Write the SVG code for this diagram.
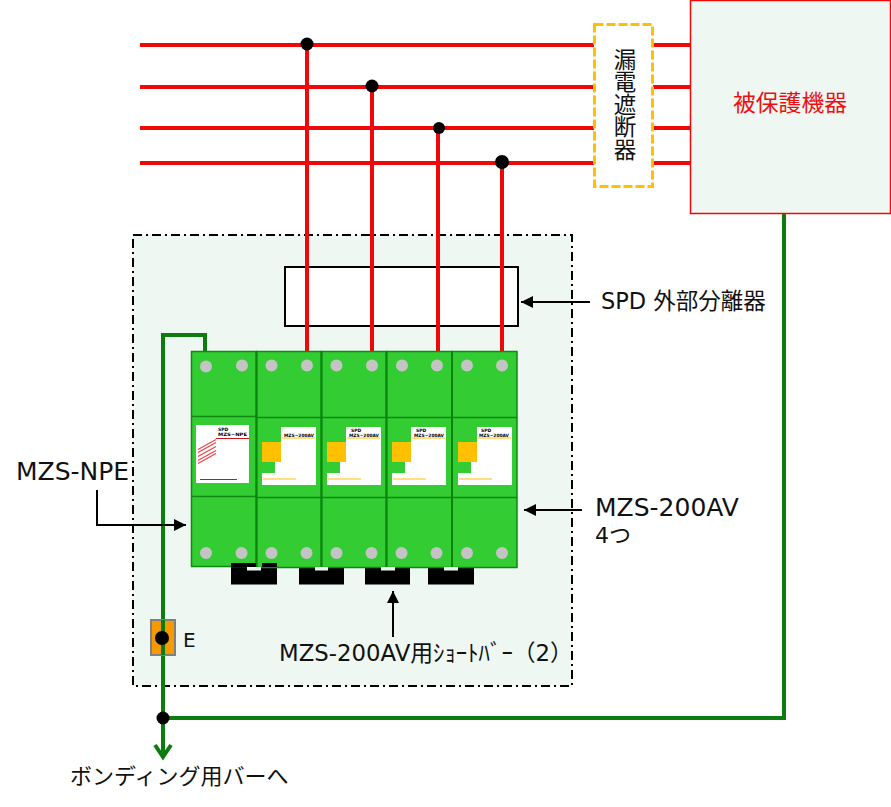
<svg xmlns="http://www.w3.org/2000/svg" xmlns:xlink="http://www.w3.org/1999/xlink" width="891" height="807" viewBox="0 0 891 807">
<style>
text{font-family:"DejaVu Sans","Noto Sans CJK JP",sans-serif;fill:#111}
.cjk{font-family:"Noto Sans CJK JP",sans-serif}
.red{fill:none;stroke:#F00808;stroke-width:4}
.grn{fill:none;stroke:#0C7C0F;stroke-width:4}
.blk{fill:none;stroke:#000;stroke-width:2}
.mod{fill:#33CC33;stroke:#0F8A12;stroke-width:1.500}
.div{stroke:#0F8A12;stroke-width:1.500}
.sep{stroke:#0A840F;stroke-width:2}
.scr{fill:#C4C4C4}
.bar{fill:#000}
.tiny{font-size:4.500px;font-weight:bold;fill:#000;font-family:"DejaVu Sans",sans-serif}
.yl{stroke:#FFC000;stroke-width:1}
.dot{fill:#000}
</style>
<defs>
<marker id="ah" markerUnits="userSpaceOnUse" markerWidth="13" markerHeight="12" refX="12" refY="6" orient="auto"><path d="M0 0L12 6L0 12Z" fill="#000"/></marker>
<g id="modfront">
<path fill="#fff" d="M19 0H54V58H0V46H13V35H19Z"/>
<rect x="0" y="15" width="19" height="20" fill="#FFC000"/>
<path class="yl" d="M20 11H53M1 52H34"/>
</g>
</defs>
<rect width="891" height="807" fill="#fff"/>

<g id="enclosure"><rect x="133" y="235" width="439" height="451" fill="#EEF7F2" stroke="#000" stroke-width="2" stroke-dasharray="9 4 2 4"/></g>

<g id="connectors">
<path class="red" d="M140 45H594M653 45H690M140 87H594M653 87H690M140 128H594M653 128H690M140 163H594M653 163H690"/>
<path class="grn" d="M205 351V335H163V756M784 213V718H163M155 745L163 757L171 745"/>
<path class="blk" d="M590 302H521" marker-end="url(#ah)"/>
<path class="blk" d="M97 490V525H186" marker-end="url(#ah)"/>
<path class="blk" d="M582 510H524" marker-end="url(#ah)"/>
<path class="blk" d="M393 637V591" marker-end="url(#ah)"/>
</g>

<g id="separator"><rect x="285" y="267" width="233" height="59" fill="#fff" stroke="#000" stroke-width="2"/></g>
<g id="feeders">
<path class="red" d="M307 45V351M372 87V351M438 128V351M502 163V351"/>
<circle class="dot" cx="307" cy="44" r="6.500"/>
<circle class="dot" cx="372" cy="86" r="6.500"/>
<circle class="dot" cx="439" cy="128" r="6"/>
<circle class="dot" cx="502" cy="162" r="7"/>
</g>

<g id="short-bars">
<path class="bar" d="M231 563H277V584.500H231Z"/>
<path class="bar" d="M299 566H344V584.500H299Z"/>
<path class="bar" d="M365 566H410V584.500H365Z"/>
<path class="bar" d="M428 566H474V584.500H428Z"/>
</g>

<g id="mzs-npe">
<rect class="mod" x="191.500" y="351.500" width="65" height="215"/>
<path class="div" d="M191.500 416.500H256.500M191.500 496.500H256.500"/>
<circle class="scr" cx="206" cy="366.500" r="6"/><circle class="scr" cx="242" cy="365.500" r="6"/>
<circle class="scr" cx="206" cy="553" r="6"/><circle class="scr" cx="241.500" cy="553" r="6"/>
<rect x="196" y="425" width="53" height="58" fill="#fff"/>
<text class="tiny" x="218" y="430.500">SPD</text>
<text class="tiny" x="218" y="435.500" textLength="29" lengthAdjust="spacingAndGlyphs">MZS−NPE</text>
<path d="M216 438.500H249M200 479.500H237" stroke="#CC1418" stroke-width="1"/>
<path d="M198 449.500L216 439.500M198 452.500L216 442.500M198 456.500L216 446.500M198 460.500L216 450.500M198 463.500L216 453.500" stroke="#EE4048" stroke-width="1.200"/>
</g>

<g id="mzs-200av-1">
<rect class="mod" x="256.500" y="351.500" width="65" height="216"/>
<path class="div" d="M256.500 417.500H321.500M256.500 497.500H321.500"/>
<circle class="scr" cx="271.500" cy="365.500" r="6"/><circle class="scr" cx="307" cy="365.500" r="6"/>
<circle class="scr" cx="271.500" cy="553" r="6"/><circle class="scr" cx="306.500" cy="553" r="6"/>
<use xlink:href="#modfront" href="#modfront" x="262" y="427"/>
<text class="tiny" x="284" y="437" textLength="30" lengthAdjust="spacingAndGlyphs">MZS−200AV</text>
</g>
<g id="mzs-200av-2">
<rect class="mod" x="321.500" y="351.500" width="65" height="216"/>
<path class="div" d="M321.500 417.500H386.500M321.500 497.500H386.500"/>
<circle class="scr" cx="336.500" cy="365.500" r="6"/><circle class="scr" cx="372" cy="365.500" r="6"/>
<circle class="scr" cx="336.500" cy="553" r="6"/><circle class="scr" cx="371.500" cy="553" r="6"/>
<use xlink:href="#modfront" href="#modfront" x="327" y="427"/>
<text class="tiny" x="351" y="431.500">SPD</text>
<text class="tiny" x="349" y="437" textLength="30" lengthAdjust="spacingAndGlyphs">MZS−200AV</text>
</g>
<g id="mzs-200av-3">
<rect class="mod" x="386.500" y="351.500" width="65.500" height="216"/>
<path class="div" d="M386.500 417.500H452M386.500 497.500H452"/>
<circle class="scr" cx="402" cy="365.500" r="6"/><circle class="scr" cx="437" cy="365.500" r="6"/>
<circle class="scr" cx="401.500" cy="553" r="6"/><circle class="scr" cx="436.500" cy="553" r="6"/>
<use xlink:href="#modfront" href="#modfront" x="392" y="427"/>
<text class="tiny" x="416" y="431.500">SPD</text>
<text class="tiny" x="414" y="437" textLength="30" lengthAdjust="spacingAndGlyphs">MZS−200AV</text>
</g>
<g id="mzs-200av-4">
<rect class="mod" x="452" y="351.500" width="65" height="216"/>
<path class="div" d="M452 417.500H517M452 497.500H517"/>
<circle class="scr" cx="467" cy="365.500" r="6"/><circle class="scr" cx="502" cy="365.500" r="6"/>
<circle class="scr" cx="467" cy="553" r="6"/><circle class="scr" cx="502" cy="553" r="6"/>
<use xlink:href="#modfront" href="#modfront" x="458" y="427"/>
<text class="tiny" x="481" y="431.500">SPD</text>
<text class="tiny" x="479" y="437" textLength="30" lengthAdjust="spacingAndGlyphs">MZS−200AV</text>
</g>
<path id="module-seams" class="sep" d="M256.500 351V567M321.500 351V567M386.500 351V567M452 351V567"/>

<g id="short-bar-tops">
<path class="bar" d="M231 563H256V567H231ZM262 563H277V567H262Z"/>
<rect x="247" y="567" width="14" height="3.500" fill="#EEF7F2"/>
<rect x="315" y="567" width="13" height="3.500" fill="#EEF7F2"/>
<rect x="381" y="567" width="14" height="3.500" fill="#EEF7F2"/>
<rect x="444" y="567" width="14" height="3.500" fill="#EEF7F2"/>
</g>

<g id="earth-terminal">
<rect x="151" y="620" width="24" height="35" fill="#F79A00" stroke="#808080" stroke-width="2"/>
<path class="grn" d="M163 620V655"/>
<circle class="dot" cx="162" cy="638" r="7"/>
<text x="183" y="647" font-size="20">E</text>
</g>
<circle id="junction" class="dot" cx="163" cy="718" r="6.500"/>

<g id="breaker">
<rect x="594.500" y="24.500" width="58" height="162" fill="#fff" stroke="#FFC000" stroke-width="3" stroke-dasharray="9 3"/>
<text class="cjk" x="625" y="48" font-size="22.500" style="writing-mode:vertical-rl">漏電遮断器</text>
</g>
<g id="protected-device">
<rect x="690.500" y="0.500" width="200" height="213" fill="#EEF7F2" stroke="#F00808" stroke-width="1.500"/>
<text class="cjk" x="790" y="111" font-size="22.800" text-anchor="middle" style="fill:#EE0F12">被保護機器</text>
</g>

<g id="labels">
<text x="601" y="309" font-size="22.500">SPD 外部分離器</text>
<text x="16" y="480" font-size="25">MZS-NPE</text>
<text x="595" y="516" font-size="25">MZS-200AV</text>
<text x="595" y="543" font-size="22">4つ</text>
<text x="279" y="661" font-size="22.800">MZS-200AV用ｼｮｰﾄﾊﾞｰ（2）</text>
<text class="cjk" x="70" y="784" font-size="22">ボンディング用バーへ</text>
</g>
</svg>
